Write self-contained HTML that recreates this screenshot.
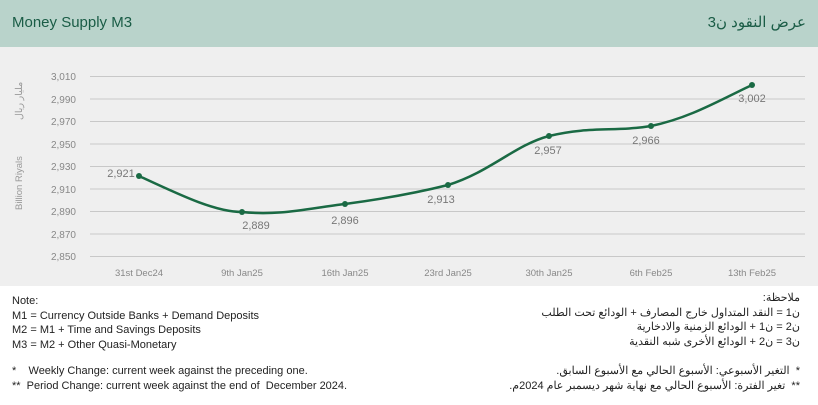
<!DOCTYPE html>
<html><head><meta charset="utf-8"><style>
body{margin:0;width:818px;height:405px;background:#fff;font-family:"Liberation Sans","Noto Sans CJK SC",sans-serif;position:relative;overflow:hidden}
.hd{position:absolute;left:0;top:0;width:818px;height:47px;background:#b9d3cb}
.ch{position:absolute;left:0;top:47px;width:818px;height:239px;background:#efefef}
.t{position:absolute;white-space:nowrap}
</style></head><body>
<div class="hd"></div>
<div class="t" style="left:12px;top:14px;font-size:15px;color:#1a5c46">Money Supply M3</div>
<div class="t" style="right:12px;top:13px;font-size:15px;color:#1a5c46;direction:rtl">عرض النقود ن3</div>
<div class="ch"></div>
<svg style="position:absolute;left:0;top:0" width="818" height="405">
<g stroke="#c8c8c8" stroke-width="1">
<line x1="90" x2="805" y1="76.5" y2="76.5"/><line x1="90" x2="805" y1="99" y2="99"/><line x1="90" x2="805" y1="121.5" y2="121.5"/><line x1="90" x2="805" y1="144" y2="144"/><line x1="90" x2="805" y1="166.5" y2="166.5"/><line x1="90" x2="805" y1="189" y2="189"/><line x1="90" x2="805" y1="211.5" y2="211.5"/><line x1="90" x2="805" y1="234" y2="234"/><line x1="90" x2="805" y1="256.5" y2="256.5"/>
</g>
<g font-size="10" fill="#888" text-anchor="end" font-family="Liberation Sans,sans-serif">
<text x="76" y="80">3,010</text><text x="76" y="103">2,990</text><text x="76" y="125">2,970</text><text x="76" y="148">2,950</text><text x="76" y="170">2,930</text><text x="76" y="193">2,910</text><text x="76" y="215">2,890</text><text x="76" y="238">2,870</text><text x="76" y="260">2,850</text>
</g>
<g font-size="9.5" fill="#888" text-anchor="middle" font-family="Liberation Sans,sans-serif">
<text x="139" y="276">31st Dec24</text><text x="242" y="276">9th Jan25</text><text x="345" y="276">16th Jan25</text><text x="448" y="276">23rd Jan25</text><text x="549" y="276">30th Jan25</text><text x="651" y="276">6th Feb25</text><text x="752" y="276">13th Feb25</text>
</g>
<text transform="translate(22,210) rotate(-90)" font-size="9.5" fill="#999">Billion Riyals</text>
<text transform="translate(22,120) rotate(-90)" font-size="9.5" fill="#999">مليار ريال</text>
<path d="M139,176 C180,195 215,212 242,212 C280,216 310,208 345,204 C390,198 420,192 448,185 C490,172 515,145 549,136 C590,126 615,132 651,126 C690,118 720,100 752,85" fill="none" stroke="#1a6a44" stroke-width="2.5"/>
<g fill="#1a6a44"><circle cx="139" cy="176" r="3"/><circle cx="242" cy="212" r="3"/><circle cx="345" cy="204" r="3"/><circle cx="448" cy="185" r="3"/><circle cx="549" cy="136" r="3"/><circle cx="651" cy="126" r="3"/><circle cx="752" cy="85" r="3"/></g>
<g font-size="11" fill="#777" text-anchor="middle" font-family="Liberation Sans,sans-serif">
<text x="121" y="177">2,921</text><text x="256" y="229">2,889</text><text x="345" y="224">2,896</text><text x="441" y="203">2,913</text><text x="548" y="154">2,957</text><text x="646" y="144">2,966</text><text x="752" y="102">3,002</text>
</g>
</svg>
<div class="t" style="left:12px;top:294px;font-size:11px;color:#222;line-height:14.5px">Note:<br>M1 = Currency Outside Banks + Demand Deposits<br>M2 = M1 + Time and Savings Deposits<br>M3 = M2 + Other Quasi-Monetary</div>
<div class="t" style="left:12px;top:364px;font-size:11px;color:#222;line-height:14.5px">*&nbsp;&nbsp;&nbsp; Weekly Change: current week against the preceding one.<br>**&nbsp; Period Change: current week against the end of&nbsp; December 2024.</div>
<div class="t" style="right:18px;top:291px;font-size:11px;color:#222;line-height:14.5px;direction:rtl;text-align:right">ملاحظة:<br>ن1 = النقد المتداول خارج المصارف + الودائع تحت الطلب<br>ن2 = ن1 + الودائع الزمنية والادخارية<br>ن3 = ن2 + الودائع الأخرى شبه النقدية</div>
<div class="t" style="right:18px;top:364px;font-size:11px;color:#222;line-height:14.5px;direction:rtl;text-align:right">*&nbsp; التغير الأسبوعي: الأسبوع الحالي مع الأسبوع السابق.<br>**&nbsp; تغير الفترة: الأسبوع الحالي مع نهاية شهر ديسمبر عام 2024م.</div>
</body></html>
